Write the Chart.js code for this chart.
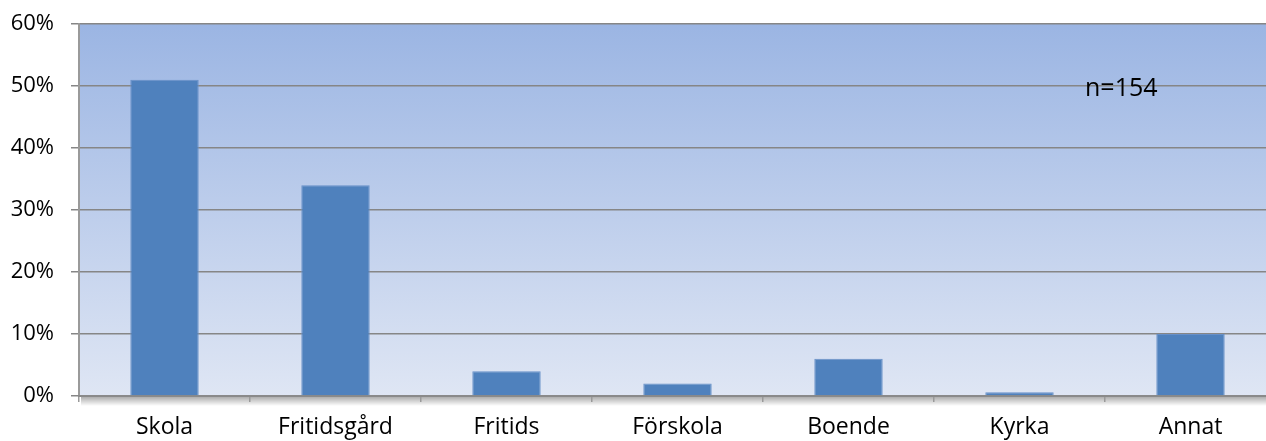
<!DOCTYPE html>
<html>
<head>
<meta charset="utf-8">
<script src="https://cdn.jsdelivr.net/npm/chart.js@4"></script>
<style>
  html, body { margin: 0; padding: 0; background: #fff; overflow: hidden; }
  #wrap { width: 1276px; height: 441px; }
</style>
</head>
<body>
<div id="wrap"><canvas id="chart" width="1276" height="441"></canvas></div>
<script>
const categories = ['Skola', 'Fritidsgård', 'Fritids', 'Förskola', 'Boende', 'Kyrka', 'Annat'];
const shares = [51, 34, 4, 2, 6, 0.6, 10];
const yTicks = [0, 10, 20, 30, 40, 50, 60];
const note = 'n=154';

// gradient plot background + shadow under the x axis + n label
const plotDecor = {
    id: 'plotDecor',
    beforeDraw(chart) {
        const { ctx, chartArea: a } = chart;
        const g = ctx.createLinearGradient(0, a.top, 0, a.bottom);
        g.addColorStop(0, '#9bb5e3');
        g.addColorStop(1, '#dfe6f4');
        ctx.save();
        ctx.fillStyle = g;
        ctx.fillRect(a.left, a.top, a.right - a.left, a.bottom - a.top);
        const s = ctx.createLinearGradient(0, a.bottom, 0, a.bottom + 10);
        s.addColorStop(0, 'rgba(0,0,0,0.35)');
        s.addColorStop(1, 'rgba(0,0,0,0)');
        ctx.fillStyle = s;
        ctx.fillRect(a.left + 2, a.bottom, a.right - a.left, 10);
        ctx.restore();
    },
    afterDraw(chart) {
        const { ctx } = chart;
        ctx.save();
        ctx.font = '25px "Open Sans"';
        ctx.fillStyle = '#000';
        ctx.textBaseline = 'middle';
        ctx.fillText(note, 1085, 89);
        ctx.restore();
    }
};

new Chart(document.getElementById('chart').getContext('2d'), {
    type: 'bar',
    data: {
        labels: categories,
        datasets: [{
            data: shares,
            backgroundColor: '#4f81bd',
            borderColor: '#6890c8',
            borderWidth: 1,
            categoryPercentage: 1,
            barPercentage: 0.4
        }]
    },
    options: {
        responsive: false,
        animation: false,
        layout: { padding: { top: 24, left: 0, right: 0, bottom: 0 } },
        plugins: {
            legend: { display: false },
            tooltip: { enabled: false }
        },
        scales: {
            y: {
                min: 0,
                max: 60,
                afterFit: s => { s.width = 79; s.paddingTop = 0; s.paddingBottom = 0; },
                afterBuildTicks: s => { s.ticks = yTicks.map(v => ({ value: v })); },
                ticks: {
                    callback: v => v + '%',
                    color: '#000',
                    font: { family: 'Open Sans', size: 22 },
                    padding: 17
                },
                grid: { color: '#868686', lineWidth: 1.5, tickLength: 8 },
                border: { color: '#9a9a9a', width: 2 }
            },
            x: {
                afterFit: s => { s.height = 45; },
                ticks: {
                    color: '#000',
                    font: { family: 'Open Sans', size: 23 },
                    padding: 12
                },
                grid: { offset: true, drawOnChartArea: false, color: '#9a9a9a', tickLength: 6, lineWidth: 1.5 },
                border: { color: '#8a8a8a', width: 2 }
            }
        }
    },
    plugins: [plotDecor]
});
</script>
</body>
</html>
